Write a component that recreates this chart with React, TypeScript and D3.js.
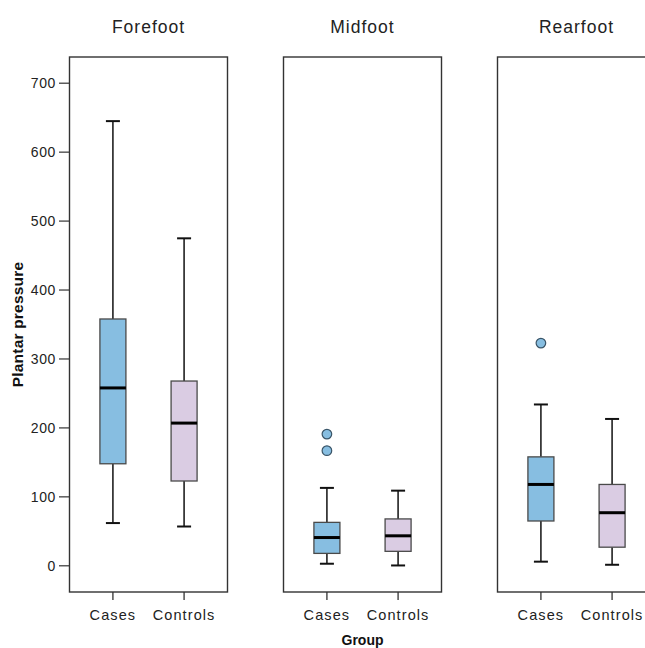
import React from "react";
import * as d3 from "d3";

const regions = ["Forefoot", "Midfoot", "Rearfoot"];
const groups = ["Cases", "Controls"];
// [region][group] values
const lowWhisker = [[62, 57], [3, 0.5], [6, 1.5]];
const q1Values = [[148, 123], [18, 21], [65, 27]];
const medianValues = [[258, 207], [41, 43.5], [118, 77]];
const q3Values = [[358, 268], [63, 68], [158, 118]];
const highWhisker = [[645, 475], [113, 109], [234, 213]];
const outlierValues = [[[], []], [[191, 167], []], [[323], []]];
const yTicks = [0, 100, 200, 300, 400, 500, 600, 700];

const fills = ["#87BEE1", "#DACCE3"];
const font = "'Liberation Sans', Arial, sans-serif";

export default function App() {
  const W = 645, H = 648;
  const frameTop = 57, frameBottom = 592;
  const panelW = 158;
  const panelStep = 214;
  const firstLeft = 69.5;
  const y = d3.scaleLinear().domain([-38, 738]).range([frameBottom, frameTop]);
  const x = d3.scalePoint<string>().domain(groups).range([0, panelW]).padding(0.61);
  const boxW = 26;
  const capW = 14;

  return (
    <svg width={W} height={H} style={{ position: "fixed", left: 0, top: 0, background: "#fff" }} fontFamily={font}>
      <rect x={0} y={0} width={W} height={H} fill="#fff" />
      {yTicks.map((t) => (
        <g key={t}>
          <line x1={59} x2={firstLeft} y1={y(t)} y2={y(t)} stroke="#333" strokeWidth={1.2} />
          <text x={56} y={y(t) + 5} textAnchor="end" fontSize={14} fill="#222" letterSpacing={0.6}>{t}</text>
        </g>
      ))}
      <text transform={`translate(23,${(frameTop + frameBottom) / 2}) rotate(-90)`} textAnchor="middle" fontSize={15.5} fontWeight="bold" fill="#111" letterSpacing={0.2}>Plantar pressure</text>
      {regions.map((r, i) => {
        const left = firstLeft + i * panelStep;
        return (
          <g key={r} transform={`translate(${left},0)`}>
            <text x={panelW / 2} y={33} textAnchor="middle" fontSize={17.5} fill="#222" letterSpacing={1}>{r}</text>
            <rect x={0} y={frameTop} width={panelW} height={frameBottom - frameTop} fill="none" stroke="#333" strokeWidth={1.4} />
            {groups.map((g, j) => {
              const cx = x(g)!;
              return (
                <g key={g}>
                  <line x1={cx} x2={cx} y1={frameBottom} y2={frameBottom + 8} stroke="#333" strokeWidth={1.3} />
                  <text x={cx} y={620} textAnchor="middle" fontSize={14.5} fill="#222" letterSpacing={1.1}>{g}</text>
                  <line x1={cx} x2={cx} y1={y(highWhisker[i][j])} y2={y(q3Values[i][j])} stroke="#111" strokeWidth={1.5} />
                  <line x1={cx} x2={cx} y1={y(q1Values[i][j])} y2={y(lowWhisker[i][j])} stroke="#111" strokeWidth={1.5} />
                  <line x1={cx - capW / 2} x2={cx + capW / 2} y1={y(highWhisker[i][j])} y2={y(highWhisker[i][j])} stroke="#111" strokeWidth={2} />
                  <line x1={cx - capW / 2} x2={cx + capW / 2} y1={y(lowWhisker[i][j])} y2={y(lowWhisker[i][j])} stroke="#111" strokeWidth={2} />
                  <rect x={cx - boxW / 2} y={y(q3Values[i][j])} width={boxW} height={y(q1Values[i][j]) - y(q3Values[i][j])} fill={fills[j]} stroke="#4a4a4a" strokeWidth={1.3} />
                  <line x1={cx - boxW / 2} x2={cx + boxW / 2} y1={y(medianValues[i][j])} y2={y(medianValues[i][j])} stroke="#000" strokeWidth={3} />
                  {outlierValues[i][j].map((v, k) => (
                    <circle key={k} cx={cx} cy={y(v)} r={4.8} fill={fills[0]} stroke="#3a5568" strokeWidth={1.2} />
                  ))}
                </g>
              );
            })}
          </g>
        );
      })}
      <text x={firstLeft + panelStep + panelW / 2} y={645} textAnchor="middle" fontSize={14} fontWeight="bold" fill="#111">Group</text>
    </svg>
  );
}
